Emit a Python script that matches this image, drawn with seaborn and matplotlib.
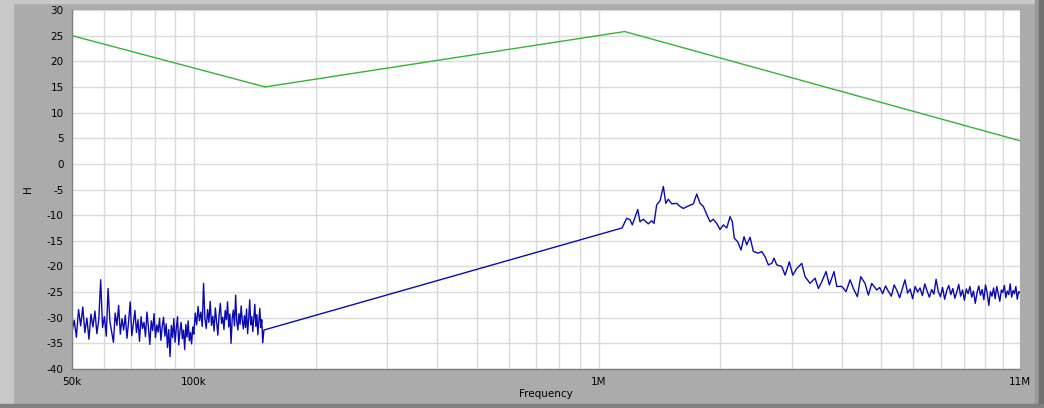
import numpy as np
import pandas as pd
import matplotlib
matplotlib.use("Agg")
import matplotlib.pyplot as plt
from matplotlib.patches import Rectangle
import seaborn as sns

# --- limit line (green) ---
limit_freq = [50e3, 150e3, 1.16e6, 11e6]
limit_h = [25.0, 15.0, 25.8, 4.5]

# --- measured spectrum (blue) ---
# low band 50k..100k, evenly sampled
low1_start, low1_stop = 50e3, 100e3
low1_h = [
    -32.7, -30.5, -33.8, -28.4, -31.6, -27.9, -32.9, -30.1, -34.2, -29.3,
    -31.8, -28.7, -33.1, -30.4, -22.6, -31.9, -29.8, -33.6, -24.3, -30.7,
    -32.8, -34.8, -29.1, -31.5, -27.6, -33.2, -30.2, -32.4, -29.5, -34.0,
    -30.8, -26.9, -33.5, -31.2, -28.6, -32.9, -30.4, -34.6, -29.8, -32.1,
    -30.9, -33.7, -28.9, -31.8, -35.2, -30.6, -32.5, -29.2, -33.9, -31.4,
    -32.8, -30.1, -34.4, -31.7, -29.9, -33.6, -31.2, -35.8, -32.3, -37.6,
    -31.5, -33.9, -30.2, -34.8, -32.1, -29.8, -35.3, -32.6, -30.9, -34.1,
    -32.4, -36.2, -31.3, -33.8, -30.6, -34.5, -32.9, -35.1, -31.8, -33.2,
]
# low band 100k..148k
low2_start, low2_stop = 100e3, 148e3
low2_h = [
    -33.0, -29.1, -31.4, -27.8, -30.6, -28.9, -31.7, -23.3, -30.2, -32.1,
    -28.4, -30.9, -26.8, -31.5, -29.7, -32.6, -28.1, -30.8, -33.4, -29.5,
    -27.2, -31.1, -29.9, -32.3, -28.6, -30.4, -26.9, -31.8, -29.3, -35.0,
    -30.1, -28.5, -31.6, -25.6, -30.7, -32.4, -29.2, -31.3, -27.7, -30.5,
    -32.2, -29.6, -31.9, -28.3, -33.1, -30.3, -26.5, -31.4, -29.8, -32.7,
    -30.0, -27.4, -31.7, -29.4, -33.3, -30.6, -28.2, -31.9, -30.4, -34.9,
]
# start of the gap segment
gap_freq = [149e3]
gap_h = [-32.4]

# peak region, frequencies in kHz
peak_freq_k = [
    1143, 1174, 1196, 1212, 1250, 1266, 1290, 1327, 1353, 1371,
    1392, 1419, 1446, 1466, 1487, 1517, 1560, 1590, 1620, 1667,
    1715, 1748, 1782, 1815, 1861, 1886, 1921, 1959, 1996, 2034,
    2074, 2113, 2141, 2165, 2208, 2249, 2288, 2324, 2368, 2413,
    2482, 2531, 2579, 2628, 2679, 2714, 2756, 2836, 2890, 2961,
    3019, 3089, 3178, 3238, 3331, 3428, 3493, 3561, 3649, 3718,
    3819, 3878, 3990, 4089, 4183, 4262, 4360, 4445, 4555, 4642,
    4732, 4869,
]
peak_h = [
    -12.5, -10.6, -10.9, -11.9, -8.9, -11.3, -10.8, -11.7, -11.1, -11.6,
    -8.0, -7.2, -4.4, -7.7, -6.9, -7.8, -7.7, -8.3, -8.7, -8.2,
    -7.8, -5.9, -7.7, -8.3, -10.3, -11.3, -10.8, -11.6, -12.8, -11.9,
    -12.5, -10.3, -11.3, -14.5, -15.2, -16.8, -14.2, -15.8, -14.3, -17.1,
    -17.4, -17.1, -18.1, -19.7, -19.4, -18.4, -19.7, -20.0, -21.7, -19.1,
    -21.7, -20.4, -19.4, -22.0, -23.3, -22.3, -24.3, -23.0, -21.0, -23.6,
    -21.0, -23.9, -23.9, -24.9, -22.6, -24.3, -25.9, -22.0, -23.3, -25.6,
    -23.3, -24.6,
]

# high band tail 4.9M..11M, evenly sampled
tail_start, tail_stop = 4.95e6, 11e6
tail_h = [
    -24.1, -25.3, -23.8, -24.9, -25.8, -23.6, -24.7, -26.1, -24.3, -22.6,
    -25.2, -24.4, -26.3, -23.9, -25.0, -24.2, -25.7, -23.4, -24.8, -26.0,
    -24.5, -25.4, -22.5, -24.9, -25.9, -24.1, -26.4, -24.7, -23.7, -25.5,
    -24.3, -26.2, -25.0, -23.5, -25.8, -24.6, -26.6, -24.4, -25.3, -23.9,
    -26.0, -24.8, -27.2, -25.1, -23.8, -25.6, -24.5, -26.5, -23.6, -25.2,
    -27.6, -24.9, -25.8, -24.2, -26.3, -23.9, -25.4, -26.8, -24.6, -25.1,
    -23.7, -26.1, -24.8, -25.5, -23.4, -26.0, -24.7, -25.3, -23.9, -26.4,
    -24.9, -25.2,
]

x_ticks = [50e3, 100e3, 1e6, 10e6, 11e6]
x_labels = ["50k", "100k", "1M", "", "11M"]
y_ticks = list(range(-40, 31, 5))

# build the spectrum in drawing order
spec_freq = np.concatenate([
    np.linspace(low1_start, low1_stop, len(low1_h)),
    np.linspace(low2_start, low2_stop, len(low2_h)),
    gap_freq,
    np.array(peak_freq_k) * 1e3,
    np.linspace(tail_start, tail_stop, len(tail_h)),
])
spec_h = np.concatenate([low1_h, low2_h, gap_h, peak_h, tail_h])
spec = pd.DataFrame({"freq": spec_freq, "H": spec_h})
limit = pd.DataFrame({"freq": limit_freq, "H": limit_h})

sns.set_theme(style="white")
plt.rcParams["font.family"] = ["DejaVu Sans"]
plt.rcParams["axes.unicode_minus"] = False

fig = plt.figure(figsize=(10.44, 4.08), dpi=100, facecolor="#ABABAB")
# window frame
fig.add_artist(Rectangle((0, 0), 13 / 1044, 1, transform=fig.transFigure, color="#C8C8C8", zorder=-5))
fig.add_artist(Rectangle((0, 1 - 3 / 408), 1, 3 / 408, transform=fig.transFigure, color="#C8C8C8", zorder=-5))
fig.add_artist(Rectangle((1035 / 1044, 0), 4 / 1044, 1, transform=fig.transFigure, color="#999999", zorder=-5))
fig.add_artist(Rectangle((1039 / 1044, 0), 5 / 1044, 1, transform=fig.transFigure, color="#707070", zorder=-5))
fig.add_artist(Rectangle((0, 0), 1, 4 / 408, transform=fig.transFigure, color="#808080", zorder=-5))

ax = fig.add_axes([72 / 1044, 39 / 408, 948 / 1044, 359 / 408])
ax.set_facecolor("white")

sns.lineplot(data=limit, x="freq", y="H", ax=ax, color="#33B533", linewidth=1.0,
             estimator=None, sort=False)
sns.lineplot(data=spec, x="freq", y="H", ax=ax, color="#0A0AB0", linewidth=1.0,
             estimator=None, sort=False)

ax.set_xscale("log")
ax.set_xlim(50e3, 11e6)
ax.set_ylim(-40, 30)
ax.set_xticks(x_ticks)
ax.set_xticklabels(x_labels)
ax.xaxis.set_minor_locator(matplotlib.ticker.LogLocator(base=10, subs=np.arange(2, 10)))
ax.xaxis.set_minor_formatter(matplotlib.ticker.NullFormatter())
ax.set_yticks(y_ticks)
ax.set_yticklabels([str(v) for v in y_ticks])

ax.grid(True, which="major", color="#DADADA", linewidth=1.0)
ax.grid(True, which="minor", axis="x", color="#DADADA", linewidth=1.0)
ax.set_axisbelow(True)

ax.tick_params(axis="both", which="major", direction="out", length=4, width=1,
               color="#202020", labelsize=7.5, labelcolor="black", pad=2)
ax.tick_params(axis="x", which="minor", length=0)

for side in ["top", "right"]:
    ax.spines[side].set_visible(False)
for side in ["left", "bottom"]:
    ax.spines[side].set_color("#808080")
    ax.spines[side].set_linewidth(1.0)

ax.set_xlabel("Frequency", fontsize=7.5, color="black", labelpad=1)
ax.set_ylabel("H", fontsize=7.5, color="black", labelpad=10)

fig.savefig("out.png", dpi=100, facecolor=fig.get_facecolor())
